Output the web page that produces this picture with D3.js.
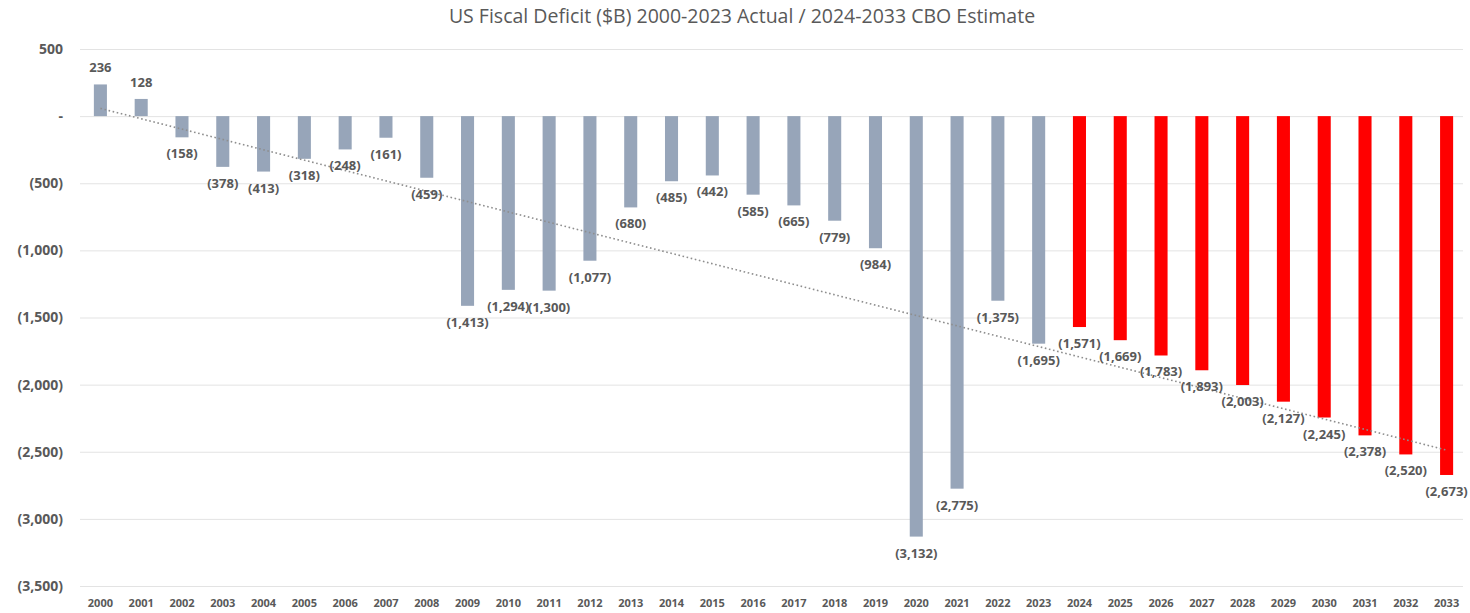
<!DOCTYPE html>
<html>
<head>
<meta charset="utf-8">
<script src="https://cdn.jsdelivr.net/npm/d3@7"></script>
<style>
  body { margin: 0; background: #fff; }
  text { font-family: "Open Sans", sans-serif; fill: #595959; }
  .grid line { stroke: #e3e3e3; }
  .grid .domain { display: none; }
</style>
</head>
<body>
<div id="chart"></div>
<script>
const width = 1470,
    height = 613,
    margin = ({ top: 49, right: 3, bottom: 27, left: 80 });

// data (billions of dollars, negative = deficit)
const years = d3.range(2000, 2034).map(String);
const deficits = [236, 128, -158, -378, -413, -318, -248, -161, -459, -1413,
  -1294, -1300, -1077, -680, -485, -442, -585, -665, -779, -984,
  -3132, -2775, -1375, -1695, -1571, -1669, -1783, -1893, -2003, -2127,
  -2245, -2378, -2520, -2673];
const firstEstimate = "2024"; // CBO estimate starts here
const yTicks = [500, 0, -500, -1000, -1500, -2000, -2500, -3000, -3500];

const data = years.map((y, i) => ({ year: y, value: deficits[i], est: +y >= +firstEstimate }));

const svg = d3.select("#chart")
    .append("svg")
    .attr("width", width)
    .attr("height", height);

const x = d3.scaleBand()
    .domain(years)
    .range([margin.left, width - margin.right])
    .paddingInner(0.68)
    .paddingOuter(0.34);

const y = d3.scaleLinear()
    .domain([-3500, 500])
    .range([height - margin.bottom, margin.top]);

// accounting style numbers: 1,234 / (1,234) / -
const fmt = v => v === 0 ? "-" : v < 0 ? `(${d3.format(",")(-v)})` : d3.format(",")(v);

// gridlines + y labels
svg.append("g")
    .attr("class", "grid")
    .attr("transform", `translate(${margin.left},0)`)
    .call(d3.axisLeft(y).tickValues(yTicks).tickSize(-(width - margin.right - margin.left - 4)).tickFormat(fmt).tickPadding(17))
    .call(g => g.selectAll("text")
        .style("font-size", "14px")
        .style("font-weight", "bold"));

// x labels
svg.append("g")
    .attr("transform", `translate(0,${height - margin.bottom})`)
    .call(d3.axisBottom(x).tickSize(0).tickPadding(13))
    .call(g => g.select(".domain").remove())
    .call(g => g.selectAll("text")
        .style("font-size", "11px")
        .style("font-weight", "bold"));

// bars
svg.append("g")
  .selectAll("rect")
  .data(data)
  .join("rect")
    .attr("x", d => x(d.year))
    .attr("width", x.bandwidth())
    .attr("y", d => y(Math.max(0, d.value)))
    .attr("height", d => Math.abs(y(d.value) - y(0)))
    .attr("fill", d => d.est ? "#ff0000" : "#97a5b9");

// linear trendline (least squares, like Excel's)
const reg = (() => {
    const mx = d3.mean(data, (d, i) => i), my = d3.mean(data, d => d.value);
    const sxy = d3.sum(data, (d, i) => (i - mx) * (d.value - my));
    const sxx = d3.sum(data, (d, i) => (i - mx) ** 2);
    const b = sxy / sxx;
    return i => my + b * (i - mx);
})();

const trend = [0, years.length - 1];
svg.append("path")
    .datum(trend)
    .attr("d", d3.line()
        .x(i => x(years[i]) + x.bandwidth() / 2)
        .y(i => y(reg(i))))
    .attr("fill", "none")
    .attr("stroke", "#8e8e8e")
    .attr("stroke-width", 1.6)
    .attr("stroke-dasharray", "1.6,2.6");

// value labels
svg.append("g")
  .selectAll("text")
  .data(data)
  .join("text")
    .attr("x", d => x(d.year) + x.bandwidth() / 2)
    .attr("y", d => d.value >= 0 ? y(d.value) - 12 : y(d.value) + 21)
    .attr("text-anchor", "middle")
    .style("font-size", "13px")
    .style("font-weight", "bold")
    .text(d => fmt(d.value));

// title
svg.append("text")
    .attr("x", 742)
    .attr("y", 23)
    .attr("text-anchor", "middle")
    .style("font-size", "19.5px")
    .text("US Fiscal Deficit ($B) 2000-2023 Actual / 2024-2033 CBO Estimate");
</script>
</body>
</html>
